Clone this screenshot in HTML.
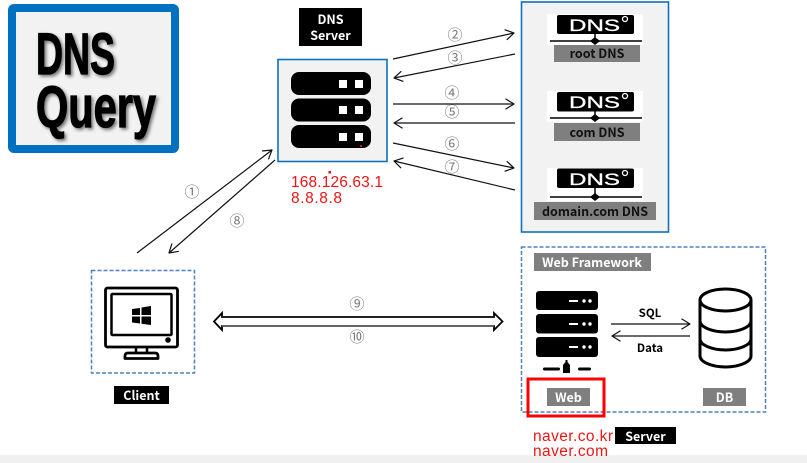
<!DOCTYPE html>
<html><head><meta charset="utf-8"><style>
html,body{margin:0;padding:0;background:#fff;width:807px;height:463px;overflow:hidden}
svg{display:block}
text{font-family:"Liberation Sans","Noto Sans CJK KR",sans-serif}
.l{font-family:"Noto Sans CJK KR","Liberation Sans",sans-serif;font-weight:700;font-size:12.500px;text-anchor:middle}
.n{font-family:"Noto Sans CJK KR","DejaVu Sans",sans-serif;font-size:15px;fill:#7a7a7a;text-anchor:middle}
.r{fill:#f01414;font-size:15.500px}
.a{fill:none;stroke:#111;stroke-width:1.200}
.t{font-weight:700;font-size:58px;fill:#000;stroke:#000;stroke-width:1.300;filter:drop-shadow(2px 2px 1.500px #777)}
.d{font-weight:400;font-size:17px;fill:#fff;stroke:#fff;stroke-width:.3}
</style></head><body>
<svg width="807" height="463" viewBox="0 0 807 463" xmlns="http://www.w3.org/2000/svg">
<defs>
<marker id="h" viewBox="0 0 10 12" refX="9.500" refY="6" markerWidth="10" markerHeight="12" markerUnits="userSpaceOnUse" orient="auto"><path d="M1 .8L9.500 6 1 11.200" fill="none" stroke="#111" stroke-width="1.200"/></marker>
</defs>
<rect width="807" height="463" fill="#fff"/>
<rect x="0" y="455" width="807" height="8" fill="#f0f0f0"/>

<!-- title -->
<rect x="12" y="8" width="163" height="141" rx="2" fill="#f2f2f2" stroke="#0070c0" stroke-width="8"/>
<text class="t" x="36" y="74" textLength="79" lengthAdjust="spacingAndGlyphs">DNS</text>
<text class="t" x="36" y="127" textLength="120" lengthAdjust="spacingAndGlyphs">Query</text>

<!-- DNS server -->
<rect x="299" y="8" width="63" height="38" fill="#000"/>
<text class="l" x="330.500" y="24" fill="#fff">DNS</text>
<text class="l" x="330.500" y="40" fill="#fff">Server</text>
<rect x="278" y="59.500" width="109" height="102" fill="#f2f2f2" stroke="#0f70bd" stroke-width="1.600"/>
<rect x="291" y="72" width="80" height="23" rx="8" fill="#000"/>
<rect x="291" y="98.500" width="80" height="23" rx="8" fill="#000"/>
<rect x="291" y="125" width="80" height="23" rx="8" fill="#000"/>
<g fill="#fff">
<rect x="339" y="80" width="8" height="8"/><rect x="355" y="80" width="8" height="8"/>
<rect x="339" y="106" width="8" height="8"/><rect x="355" y="106" width="8" height="8"/>
<rect x="339" y="133" width="8" height="8"/><rect x="355" y="133" width="8" height="8"/>
</g>
<rect x="360" y="145" width="2" height="2" fill="#e01010"/>
<rect x="328.500" y="171" width="2.500" height="2.500" fill="#e01010"/>
<text class="r" x="291" y="187" textLength="92" lengthAdjust="spacing">168.126.63.1</text>
<text class="r" x="291" y="203" textLength="51" lengthAdjust="spacing">8.8.8.8</text>

<!-- DNS hierarchy -->
<rect x="521.500" y="2" width="147" height="230" fill="#f2f2f2" stroke="#0f70bd" stroke-width="1.600"/>
<g>
<rect x="547" y="14" width="96" height="31" fill="#fff"/>
<rect x="557" y="15" width="77" height="19" rx="2" fill="#000"/>
<text class="d" x="569" y="31" textLength="51" lengthAdjust="spacingAndGlyphs">DNS</text>
<circle cx="625" cy="19" r="2.500" fill="none" stroke="#fff" stroke-width="1.300"/>
<path d="M550 41H642M595 34V41" stroke="#000" stroke-width="1.500"/>
<path d="M595 37L600 41 595 45 590 41Z" fill="#000"/>
</g>
<rect x="554" y="45" width="86" height="17" fill="#7f7f7f"/>
<text class="l" x="597" y="58" fill="#111">root DNS</text>

<g>
<rect x="547" y="91" width="96" height="31" fill="#fff"/>
<rect x="557" y="92" width="77" height="19.500" rx="2" fill="#000"/>
<text class="d" x="569" y="108" textLength="51" lengthAdjust="spacingAndGlyphs">DNS</text>
<circle cx="625" cy="96" r="2.500" fill="none" stroke="#fff" stroke-width="1.300"/>
<path d="M550 118H642M595 111V118" stroke="#000" stroke-width="1.500"/>
<path d="M595 114L600 118 595 122 590 118Z" fill="#000"/>
</g>
<rect x="554" y="123" width="86" height="18" fill="#7f7f7f"/>
<text class="l" x="597" y="137" fill="#111">com DNS</text>

<g>
<rect x="547" y="168" width="96" height="33" fill="#fff"/>
<rect x="557" y="168.500" width="77" height="19.500" rx="2" fill="#000"/>
<text class="d" x="569" y="185" textLength="51" lengthAdjust="spacingAndGlyphs">DNS</text>
<circle cx="625" cy="173" r="2.500" fill="none" stroke="#fff" stroke-width="1.300"/>
<path d="M550 197H642M595 188V197" stroke="#000" stroke-width="1.500"/>
<path d="M595 193L600 197 595 201 590 197Z" fill="#000"/>
</g>
<rect x="534" y="202" width="122" height="18" fill="#7f7f7f"/>
<text class="l" x="595" y="216" fill="#111">domain.com DNS</text>

<!-- Web Framework -->
<rect x="521.500" y="247" width="244" height="165" fill="#fff" stroke="#4f81bd" stroke-width="1.500" stroke-dasharray="4 2"/>
<rect x="534" y="253" width="117" height="18" fill="#7f7f7f"/>
<text class="l" x="592" y="267" fill="#fff">Web Framework</text>
<g fill="#000">
<rect x="536" y="291" width="62" height="19" rx="3"/>
<rect x="536" y="314" width="62" height="19.500" rx="3"/>
<rect x="536" y="337" width="62" height="20" rx="3"/>
<rect x="543" y="367.500" width="17" height="3" rx="1.500"/>
<rect x="578" y="367.500" width="13" height="3" rx="1.500"/>
<path d="M563 373V365L565.500 362V360H567.500V362L570 365V373Z"/>
</g>
<g fill="#fff">
<rect x="569" y="300" width="9" height="2"/><circle cx="584" cy="301" r="1.700"/><circle cx="590" cy="301" r="1.700"/>
<rect x="569" y="323" width="9" height="2"/><circle cx="584" cy="324" r="1.700"/><circle cx="590" cy="324" r="1.700"/>
<rect x="569" y="346" width="9" height="2"/><circle cx="584" cy="347" r="1.700"/><circle cx="590" cy="347" r="1.700"/>
</g>
<text class="l" x="650" y="317" fill="#000" style="font-size:11.500px">SQL</text>
<text class="l" x="650" y="352" fill="#000" style="font-size:11.500px">Data</text>
<g fill="none" stroke="#000" stroke-width="3">
<ellipse cx="725.500" cy="300" rx="25.500" ry="11"/>
<path d="M700 300V356C700 362 712 367 725.500 367S751 362 751 356V300"/>
<path d="M700 321C700 327 712 332 725.500 332S751 327 751 321"/>
<path d="M700 339C700 345 712 350 725.500 350S751 345 751 339"/>
</g>
<rect x="547" y="388" width="43" height="18" fill="#7f7f7f"/>
<text class="l" x="568.500" y="402" fill="#fff">Web</text>
<rect x="703" y="388" width="43" height="18" fill="#7f7f7f"/>
<text class="l" x="724.500" y="402" fill="#fff">DB</text>
<rect x="528" y="379" width="76" height="37" fill="none" stroke="#f00" stroke-width="3"/>

<rect x="615" y="427" width="61" height="17" fill="#000"/>
<text class="l" x="645.500" y="441" fill="#fff">Server</text>
<text class="r" x="533" y="441" textLength="80" lengthAdjust="spacing">naver.co.kr</text>
<text class="r" x="533" y="456" textLength="75" lengthAdjust="spacing">naver.com</text>

<!-- Client -->
<rect x="91.500" y="270.500" width="103" height="102.500" fill="#fff" stroke="#4f81bd" stroke-width="1.500" stroke-dasharray="4 2"/>
<rect x="105.500" y="288" width="72" height="59" rx="2" fill="#fff" stroke="#000" stroke-width="2.800"/>
<rect x="111.500" y="294" width="60" height="41" rx="1" fill="#fff" stroke="#000" stroke-width="2.500"/>
<circle cx="168" cy="340" r="2.800" fill="#000"/>
<path d="M136 347V353M147 347V353" stroke="#000" stroke-width="2.500"/>
<path d="M125 358.500V356Q125 353 128 353H155Q158 353 158 356V358.500Z" fill="#fff" stroke="#000" stroke-width="2.800" stroke-linejoin="round"/>
<path d="M132 309L140 308V315H132ZM141.500 307.500L151 306V315H141.500ZM132 316.500H140V323.500L132 322.500ZM141.500 316.500H151V325L141.500 323.800Z" fill="#000"/>
<rect x="114" y="386" width="55" height="18" fill="#000"/>
<text class="l" x="141.500" y="400" fill="#fff">Client</text>

<!-- arrows -->
<path class="a" d="M137 253L272 150" marker-end="url(#h)"/>
<path class="a" d="M275 160L169 253" marker-end="url(#h)"/>
<path class="a" d="M393 59L514 33" marker-end="url(#h)"/>
<path class="a" d="M515 54L394 78" marker-end="url(#h)"/>
<path class="a" d="M393 104H514" marker-end="url(#h)"/>
<path class="a" d="M515 123H394" marker-end="url(#h)"/>
<path class="a" d="M393 143L514 168" marker-end="url(#h)"/>
<path class="a" d="M515 190L394 161" marker-end="url(#h)"/>
<path class="a" d="M611 324H690" marker-end="url(#h)"/>
<path class="a" d="M690 336H612" marker-end="url(#h)"/>
<text class="n" x="192" y="197">①</text>
<text class="n" x="237" y="226">⑧</text>
<text class="n" x="455" y="40">②</text>
<text class="n" x="455" y="63">③</text>
<text class="n" x="452" y="98">④</text>
<text class="n" x="452" y="117">⑤</text>
<text class="n" x="452" y="149">⑥</text>
<text class="n" x="452" y="172">⑦</text>
<text class="n" x="357" y="309">⑨</text>
<text class="n" x="357" y="342">⑩</text>

<!-- double arrow -->
<path d="M222 317H494V313L502.500 321.500 494 330V326H222V330L214 321.500 222 313Z" fill="#fff" stroke="#000" stroke-width="1.800"/>
<path d="M222 317H494" stroke="#222" stroke-width="2"/>
<path d="M222 326H494" stroke="#888" stroke-width="1"/>
</svg>
</body></html>
